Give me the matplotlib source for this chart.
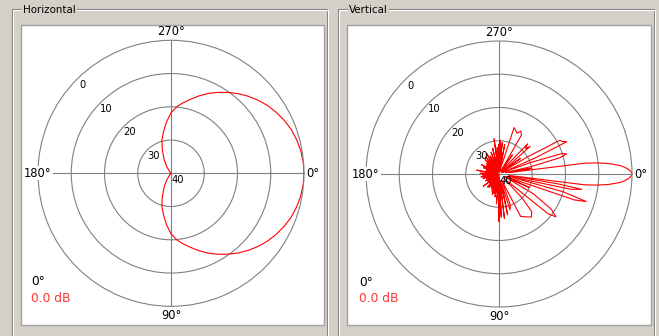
import numpy as np
import matplotlib.pyplot as plt
from matplotlib.patches import Rectangle
from matplotlib.lines import Line2D

# horizontal pattern: angle (deg, clockwise from east) -> relative level (dB)
h_angles = [0, 5, 10, 15, 20, 25, 30, 35, 40, 45, 50, 55, 60, 65, 70, 75, 80, 85, 90,
            95, 100, 105, 110, 117, 123, 130, 140, 180, 220, 230, 237, 243, 250, 255,
            260, 265, 270, 275, 280, 285, 290, 295, 300, 305, 310, 315, 320, 325, 330,
            335, 340, 345, 350, 355, 360]
h_db = [0, -0.1, -0.4, -0.9, -1.5, -2.4, -3.4, -4.5, -5.8, -7.2, -8.7, -10.3, -11.9,
        -13.5, -15.2, -16.9, -18.4, -19.9, -21.8, -24.5, -27.2, -29.5, -32.3, -35.5,
        -37.6, -39.5, -40, -40, -40, -39.5, -37.6, -35.5, -32.3, -29.5, -27.2, -24.5,
        -21.8, -19.9, -18.4, -16.9, -15.2, -13.5, -11.9, -10.3, -8.7, -7.2, -5.8, -4.5,
        -3.4, -2.4, -1.5, -0.9, -0.4, -0.1, 0]

# vertical pattern
v_angles = [0, 1, 2, 3, 4, 5.5, 6.5, 7.2, 8, 9.5, 10.5, 12, 13.5, 15.5, 17.5, 19, 21,
            24, 26, 30, 34, 37, 39, 42, 46, 49, 53, 58, 63, 66, 70, 73, 75, 78, 80, 83,
            85, 87, 88, 90, 92, 95, 97, 100, 102, 104, 106, 108, 110, 112, 114, 117, 119,
            121, 124, 127, 129, 131, 134, 137, 139, 142, 145, 148, 150, 153, 156, 159,
            162, 165, 168, 171, 174, 177, 180, 182, 185, 188, 190, 193, 196, 199, 202,
            205, 208, 211, 214, 217, 220, 223, 226, 229, 232, 235, 237, 239, 241, 244,
            247, 250, 253, 256, 259, 262, 264, 266, 268, 270, 271, 272, 274, 276, 278,
            281, 284, 288, 291, 294, 297, 300, 302, 305, 308, 313.5, 316, 318.5, 321,
            324, 327, 329, 331, 333, 334.5, 336, 338, 340, 342, 343.5, 345, 347, 348,
            350, 352, 352.8, 353.5, 354.5, 356, 357, 358, 359, 360]
v_db = [0, -0.3, -1.0, -2.1, -3.5, -7.0, -10.5, -14.0, -37, -22, -14.7, -18, -37, -20,
        -12.5, -16, -38, -30, -38, -28, -21, -18.6, -21, -38, -30, -25, -23.8, -24.8,
        -25.7, -38, -30, -28.7, -37, -27.5, -38, -26.5, -38, -27, -39, -25.7, -38, -31,
        -39, -33, -39.5, -34, -40, -33.5, -39, -34.4, -39.5, -35, -39.5, -35.5, -39.5,
        -35, -39.5, -34.8, -39.5, -36, -39.5, -34, -39.5, -36, -39.5, -35.5, -39.5, -36,
        -39.5, -35, -39.5, -34.5, -39.5, -35, -39, -34.3, -39, -35, -33.2, -39.5, -36,
        -39.5, -35, -39.5, -34, -39.5, -35.5, -39.5, -35, -39.5, -34, -39.5, -33.5,
        -39.5, -35, -32.8, -39.5, -34, -39.5, -33, -39.5, -32, -39, -29.3, -39, -32, -39,
        -31, -38, -29.8, -38, -30.5, -39, -31, -39, -25.3, -26, -26.6, -25.5, -26.5,
        -39, -33, -39, -27.5, -29, -27.5, -39, -32, -39, -30, -19.1, -18.5, -17.4, -28,
        -39, -30, -20, -18.8, -21, -30, -38, -30, -37, -14.0, -10.5, -7.0, -3.5, -2.1,
        -1.0, -0.3, 0]

ring_levels = [-30, -20, -10]
ring_labels = ['0', '10', '20', '30']
angle_labels = ['0°', '90°', '180°', '270°']

W, H = 659, 336
BG = '#d4d0c8'
GRID = '#808080'


def fx(x):
    return x / W


def fy(y):
    return 1 - y / H


fig = plt.figure(figsize=(W / 100, H / 100), dpi=100, facecolor=BG)


def group_box(x0, x1, title, tx):
    fig.add_artist(Line2D([fx(x0), fx(x0), fx(x1), fx(x1)], [fy(345), fy(9), fy(9), fy(345)],
                          transform=fig.transFigure, color='#808080', lw=0.8, zorder=-6))
    fig.add_artist(Line2D([fx(x0 + 1), fx(x0 + 1), fx(x1 + 1), fx(x1 + 1)],
                          [fy(345), fy(10), fy(10), fy(345)],
                          transform=fig.transFigure, color='white', lw=0.8, zorder=-6))
    fig.text(fx(tx), fy(10), title, fontsize=7.4, ha='left', va='center',
             bbox=dict(facecolor=BG, edgecolor='none', pad=1.0))


def panel(x0, x1, cx, cy, angles, db, title, tx):
    group_box(x0 - 9, x1 + 3, title, tx)
    fig.add_artist(Rectangle((fx(x0), fy(325)), (x1 - x0) / W, 300 / H,
                             transform=fig.transFigure, facecolor='white',
                             edgecolor='#a0a0a0', lw=1.0, zorder=-5))
    R = 133
    ax = fig.add_axes([fx(cx - R), fy(cy + R), 2 * R / W, 2 * R / H], projection='polar')
    ax.set_theta_zero_location('E')
    ax.set_theta_direction(-1)
    ax.set_ylim(-40, 0)
    ax.set_facecolor('none')
    ax.set_yticks(ring_levels)
    ax.set_yticklabels([])
    ax.set_xticks(np.deg2rad([0, 90, 180, 270]))
    ax.set_xticklabels([])
    ax.tick_params(length=0)
    ax.grid(True, color=GRID, lw=0.8)
    ax.spines['polar'].set_color(GRID)
    ax.spines['polar'].set_linewidth(0.8)

    ax.plot(np.deg2rad(angles), db, color='#ff0000', lw=0.8)

    kw = dict(textcoords='offset pixels', annotation_clip=False, fontsize=8.3)
    ax.annotate(angle_labels[3], xy=(np.deg2rad(270), 0), xytext=(0, 9),
                ha='center', va='center', **kw)
    ax.annotate(angle_labels[1], xy=(np.deg2rad(90), 0), xytext=(0, -9),
                ha='center', va='center', **kw)
    ax.annotate(angle_labels[0], xy=(0, 0), xytext=(2, 0), ha='left', va='center', **kw)
    ax.annotate(angle_labels[2], xy=(np.pi, 0), xytext=(0, 0), ha='center', va='center',
                bbox=dict(facecolor='white', edgecolor='none', pad=0.5), **kw)

    kw['fontsize'] = 7.2
    for lev, lab in zip([0] + ring_levels[::-1], ring_labels):
        ax.annotate(lab, xy=(np.deg2rad(225), lev - 2.5), xytext=(0, 0),
                    ha='center', va='center', **kw)
    ax.annotate('40', xy=(0, -40), xytext=(7, -7), ha='center', va='center', **kw)

    fig.text(fx(cx - 140), fy(cy + 108), '0°', fontsize=8.8, ha='left', va='center')
    fig.text(fx(cx - 140), fy(cy + 125), '0.0 dB', fontsize=8.8, ha='left', va='center',
             color='#ff3333')


panel(21, 324, 171, 173.3, h_angles, h_db, 'Horizontal', 23)
panel(347, 651, 499, 174, v_angles, v_db, 'Vertical', 349)

fig.savefig('out.png', dpi=100, facecolor=BG)
